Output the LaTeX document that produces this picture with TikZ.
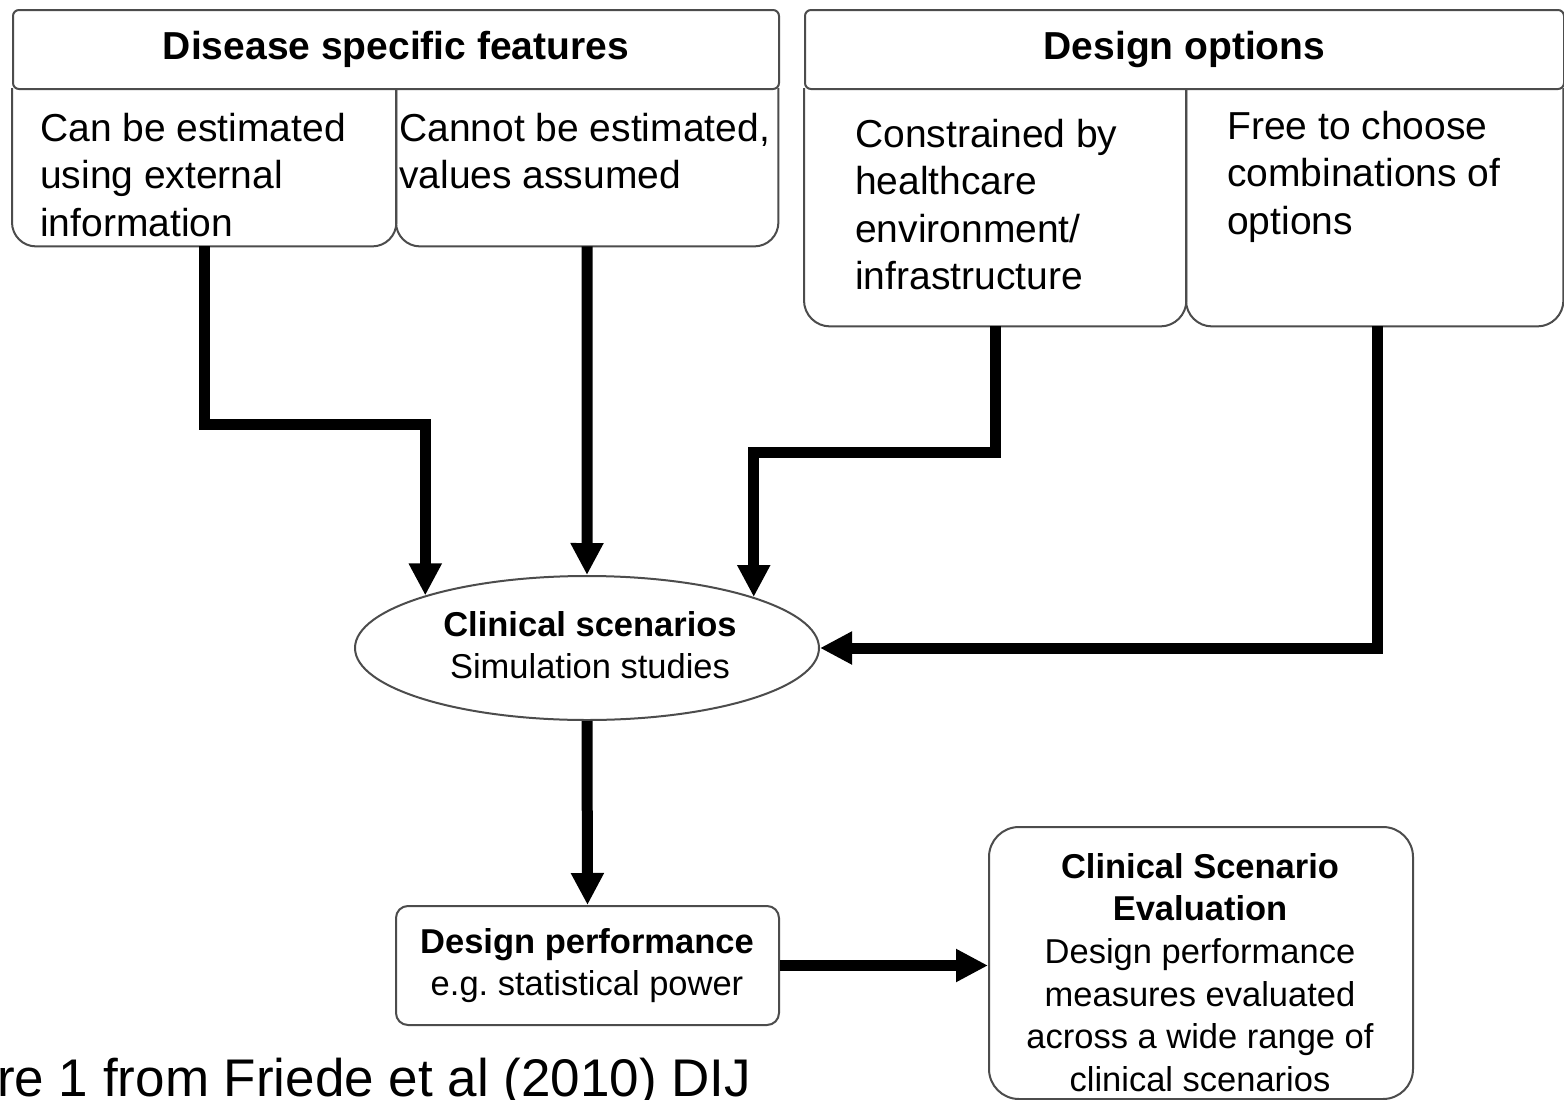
\documentclass[tikz,border=0pt]{standalone}
\usepackage{fontspec}
\setmainfont{Liberation Sans}
\usetikzlibrary{arrows.meta,shapes.geometric,calc}
\frenchspacing
\tikzset{
  outl/.style={draw=black!70, line width=2pt},
  hdr/.style={outl, rounded corners=6pt, minimum height=79pt, inner sep=0pt, anchor=north west,
    font=\fontsize{39}{47}\selectfont\bfseries},
  sb/.style={draw=none, inner sep=0pt, anchor=north west},
  txt/.style={anchor=base west, inner sep=0pt, font=\fontsize{39}{47.5}\selectfont},
  ctxt/.style={anchor=base, inner sep=0pt, font=\fontsize{34.5}{42.5}\selectfont},
  arr/.style={line width=11pt, line join=miter, -{Triangle[length=32pt,width=31pt]}}
}
\begin{document}
\begin{tikzpicture}[x=1pt,y=-1pt]
\fill[white] (0,0) rectangle (1564,1100);
\useasboundingbox (0,0) rectangle (1564,1100);

% Disease specific features
\node[hdr, minimum width=766pt] (h1) at (12,9) {Disease specific features};
\node[sb, minimum width=384pt, minimum height=158pt] (A) at (12,88) {};
\node[sb, minimum width=382pt, minimum height=158pt] (B) at (396,88) {};
\draw[outl] (A.north west) [rounded corners=24pt] -- (A.south west) -- (A.south east) -- (A.north east);
\draw[outl] (B.north west) [rounded corners=24pt] -- (B.south west) -- (B.south east) -- (B.north east);
\node[txt] (At) at (40,141) {\begin{tabular}[t]{@{}l@{}}Can be estimated\\using external\\information\end{tabular}};
\node[txt] (Bt) at (399,141) {\begin{tabular}[t]{@{}l@{}}Cannot be estimated,\\values assumed\end{tabular}};

% Design options
\node[hdr, minimum width=759pt] (h2) at (804,9) {Design options};
\node[sb, minimum width=382pt, minimum height=238pt] (C) at (804,88) {};
\node[sb, minimum width=377pt, minimum height=238pt] (D) at (1186,88) {};
\draw[outl] (C.north west) [rounded corners=26pt] -- (C.south west) -- (C.south east) -- (C.north east);
\draw[outl] (D.north west) [rounded corners=26pt] -- (D.south west) -- (D.south east) -- (D.north east);
\node[txt] (Ct) at (855,147) {\begin{tabular}[t]{@{}l@{}}Constrained by\\healthcare\\environment/\\infrastructure\end{tabular}};
\node[txt] (Dt) at (1227,139) {\begin{tabular}[t]{@{}l@{}}Free to choose\\combinations of\\options\end{tabular}};

% Clinical scenarios
\node[outl, ellipse, minimum width=464pt, minimum height=144pt, inner sep=0pt] (cs) at (587,648) {};
\node[ctxt] (cst) at (590,636) {\begin{tabular}[t]{@{}c@{}}\textbf{Clinical scenarios}\\Simulation studies\end{tabular}};

% Design performance
\node[outl, rounded corners=12pt, minimum width=383pt, minimum height=119pt, inner sep=0pt, anchor=north west] (dp) at (395,905) {};
\node[ctxt] (dpt) at (587,953) {\begin{tabular}[t]{@{}c@{}}\textbf{Design performance}\\e.g. statistical power\end{tabular}};

% Clinical Scenario Evaluation
\node[outl, rounded corners=30pt, minimum width=424pt, minimum height=272pt, inner sep=0pt, anchor=north west] (cse) at (988,826) {};
\node[ctxt, font=\fontsize{34.5}{42.7}\selectfont] (cset) at (1200,878) {\begin{tabular}[t]{@{}c@{}}\textbf{Clinical Scenario}\\\textbf{Evaluation}\\Design performance\\measures evaluated\\across a wide range of\\clinical scenarios\end{tabular}};

% caption
\node[anchor=base west, inner sep=0pt, font=\fontsize{53}{60}\selectfont] (cap) at (-3,1096) {re 1 from Friede et al (2010) DIJ};

% connectors
\coordinate (e1) at (cs.162.5);
\coordinate (e3) at (cs.17.5);
\draw[arr] (A.south) -- ++(0,178) -| (e1);
\draw[arr] (B.south) -- (cs.north);
\draw[arr] (C.south) -- ++(0,126) -| (e3);
\draw[arr] ([xshift=3pt]D.south) |- (cs.east);
\draw[arr] (cs.south) -- (dp.north);
\draw[arr] (dp.east) -- (dp.east -| cse.west);
\end{tikzpicture}
\end{document}
